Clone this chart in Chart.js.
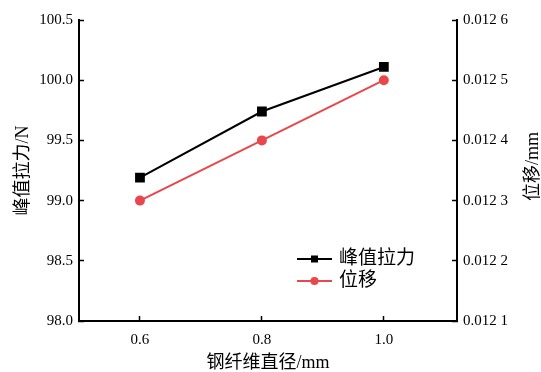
<!DOCTYPE html>
<html>
<head>
<meta charset="utf-8">
<script src="https://cdn.jsdelivr.net/npm/chart.js@4"></script>
<style>
  html, body { margin: 0; padding: 0; background: #fff; }
  #wrap { width: 541px; height: 372px; }
</style>
</head>
<body>
<div id="wrap"><canvas id="chart" width="541" height="372"></canvas></div>
<script>
const diameters = [0.6, 0.8, 1.0];
const peakForce = [99.19, 99.74, 100.11];
const displacement = [0.0123, 0.0124, 0.0125];
const seriesNames = ['峰值拉力', '位移'];
const axisTitles = ['钢纤维直径/mm', '峰值拉力/N', '位移/mm'];

const RED = '#e8474b';
const FONT = '"Liberation Serif", "Noto Sans CJK SC", serif';

const toPoints = (ys) => ys.map((y, i) => ({x: diameters[i], y: y}));

// legend with line + marker, placed inside the plot area (lower right)
const lineLegend = {
    id: 'lineLegend',
    afterDraw(chart) {
        const ctx = chart.ctx;
        const a = chart.chartArea;
        ctx.save();
        chart.data.datasets.forEach(function (ds, i) {
            const y = a.bottom - 62 + i * 22;
            const x0 = a.right - 160;
            ctx.strokeStyle = ds.borderColor;
            ctx.lineWidth = 2;
            ctx.beginPath();
            ctx.moveTo(x0, y);
            ctx.lineTo(x0 + 35, y);
            ctx.stroke();
            ctx.fillStyle = ds.backgroundColor;
            if (ds.pointStyle === 'rect') {
                ctx.fillRect(x0 + 14, y - 3.5, 7, 7);
            } else {
                ctx.beginPath();
                ctx.arc(x0 + 17.5, y, 4, 0, Math.PI * 2);
                ctx.fill();
            }
            ctx.fillStyle = '#000';
            ctx.font = '19px ' + FONT;
            ctx.textBaseline = 'middle';
            ctx.textAlign = 'left';
            ctx.fillText(ds.label, x0 + 42, y);
        });
        // right axis title, reading bottom to top
        const yc = (a.top + a.bottom) / 2 - 4;
        ctx.translate(533, yc);
        ctx.rotate(-Math.PI / 2);
        ctx.fillStyle = '#000';
        ctx.font = '18px ' + FONT;
        ctx.textAlign = 'center';
        ctx.textBaseline = 'middle';
        ctx.fillText(axisTitles[2], 0, 0);
        ctx.restore();
    }
};

const axisLook = {
    border: {display: true, color: '#000', width: 2},
    grid: {drawOnChartArea: false, drawTicks: true, tickLength: -5, tickColor: '#000', tickWidth: 1.5}
};

new Chart(document.getElementById('chart'), {
    type: 'line',
    data: {
        datasets: [{
            label: seriesNames[0],
            data: toPoints(peakForce),
            yAxisID: 'y',
            borderColor: '#000',
            backgroundColor: '#000',
            borderWidth: 2,
            pointStyle: 'rect',
            pointRadius: 5.5,
            pointHoverRadius: 5.5
        }, {
            label: seriesNames[1],
            data: toPoints(displacement),
            yAxisID: 'y1',
            borderColor: RED,
            backgroundColor: RED,
            borderWidth: 2,
            pointStyle: 'circle',
            pointRadius: 4,
            pointHoverRadius: 4
        }]
    },
    options: {
        responsive: false,
        animation: false,
        layout: {padding: {top: 17, left: 0, right: 0, bottom: 0}},
        plugins: {legend: {display: false}, tooltip: {enabled: false}},
        scales: {
            x: Object.assign({}, axisLook, {
                type: 'linear',
                min: 0.5,
                max: 1.12,
                afterBuildTicks: (s) => { s.ticks = diameters.map((v) => ({value: v})); },
                afterFit: (s) => { s.height = 51; },
                ticks: {color: '#000', padding: 15, font: {family: FONT, size: 15},
                    callback: (v) => Number(v).toFixed(1)},
                title: {display: true, text: axisTitles[0], color: '#000',
                    font: {family: FONT, size: 18, lineHeight: 1.0}, padding: {top: 0, bottom: 0}}
            }),
            y: Object.assign({}, axisLook, {
                position: 'left',
                min: 98,
                max: 100.5,
                afterFit: (s) => { s.width = 79; },
                ticks: {color: '#000', padding: 11, stepSize: 0.5, font: {family: FONT, size: 15},
                    callback: (v) => Number(v).toFixed(1)},
                title: {display: true, text: axisTitles[1], color: '#000',
                    font: {family: FONT, size: 18}, padding: {top: 12, bottom: 0}}
            }),
            y1: Object.assign({}, axisLook, {
                position: 'right',
                min: 0.0121,
                max: 0.0126,
                afterFit: (s) => { s.width = 84; },
                ticks: {color: '#000', padding: 11, stepSize: 0.0001, font: {family: FONT, size: 15},
                    callback: function (v) {
                        const s = Number(v).toFixed(4);
                        return s.slice(0, 5) + ' ' + s.slice(5);
                    }}
            })
        }
    },
    plugins: [lineLegend]
});
</script>
</body>
</html>
